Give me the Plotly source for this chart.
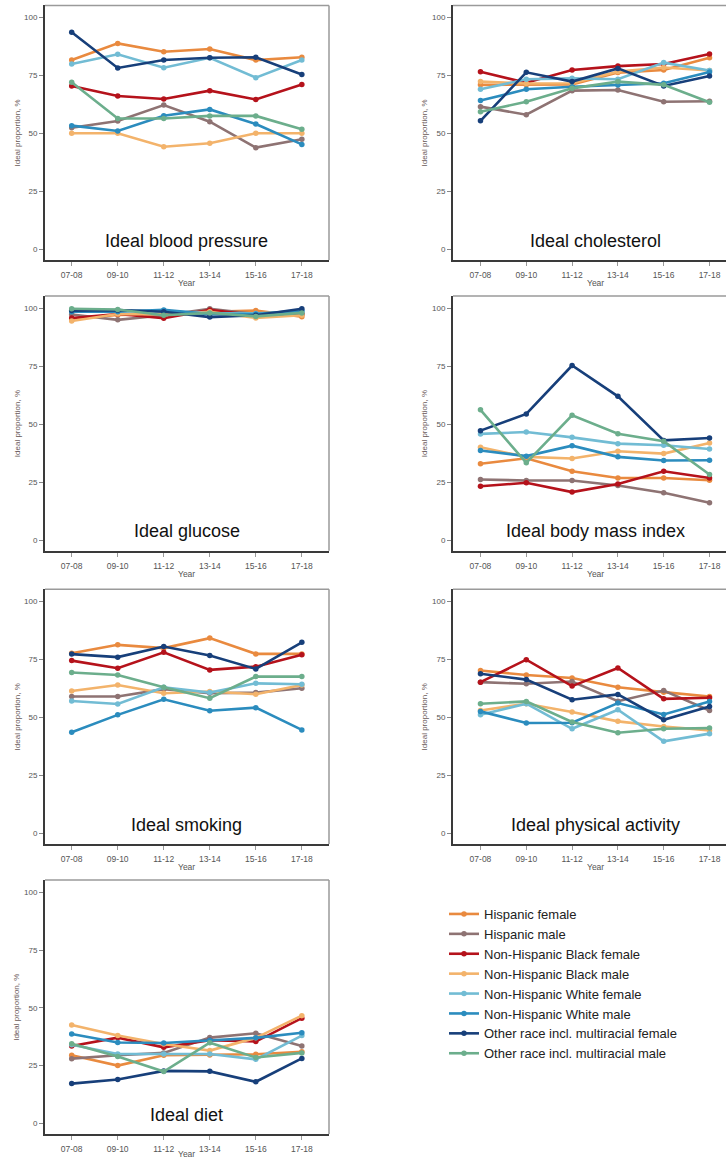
import plotly.graph_objects as go

# ---------------- data ----------------
years = ["07-08", "09-10", "11-12", "13-14", "15-16", "17-18"]

groups = [
    "Hispanic female",
    "Hispanic male",
    "Non-Hispanic Black female",
    "Non-Hispanic Black male",
    "Non-Hispanic White female",
    "Non-Hispanic White male",
    "Other race incl. multiracial female",
    "Other race incl. multiracial male",
]

colors = ["#E98A3F", "#8E7373", "#B5121B", "#F3B36B",
          "#72BCD4", "#2B8CBE", "#173F7A", "#6CAE8C"]

# order of rows = order of groups
blood_pressure = [
    [81.7, 88.9, 85.3, 86.5, 81.7, 82.9],
    [52.5, 55.4, 62.3, 55.1, 43.9, 47.5],
    [70.5, 66.2, 64.9, 68.5, 64.7, 71.2],
    [50.1, 50.1, 44.3, 45.8, 50.1, 50.1],
    [80.0, 84.2, 78.4, 82.7, 74.1, 81.7],
    [53.4, 51.1, 57.7, 60.4, 54.1, 45.3],
    [93.7, 78.3, 81.7, 82.7, 82.9, 75.5],
    [72.1, 56.5, 56.5, 57.6, 57.6, 51.8],
]

cholesterol = [
    [71.0, 71.0, 71.2, 76.3, 77.4, 82.7],
    [61.6, 58.1, 68.5, 68.8, 63.7, 63.9],
    [76.7, 71.9, 77.4, 79.1, 80.0, 84.3],
    [72.4, 71.6, 71.7, 76.8, 78.5, 77.2],
    [69.1, 73.4, 73.8, 73.4, 80.6, 77.2],
    [64.2, 69.1, 70.2, 70.9, 71.7, 76.6],
    [55.5, 76.4, 72.4, 78.1, 70.5, 74.8],
    [59.4, 63.7, 69.5, 72.4, 71.0, 63.5],
]

glucose = [
    [95.5, 97.1, 97.5, 98.5, 99.0, 96.4],
    [97.3, 95.0, 97.0, 99.8, 97.5, 97.5],
    [95.8, 97.5, 95.7, 99.3, 97.0, 97.5],
    [94.5, 97.5, 97.5, 98.5, 95.8, 97.0],
    [99.3, 99.0, 98.8, 97.8, 97.8, 98.5],
    [98.5, 98.5, 99.3, 97.5, 97.5, 99.0],
    [99.0, 99.2, 98.5, 96.2, 97.0, 99.8],
    [99.8, 99.5, 97.0, 98.0, 96.5, 98.0],
]

body_mass_index = [
    [32.9, 35.3, 29.7, 26.8, 26.8, 25.8],
    [26.1, 25.7, 25.7, 23.5, 20.4, 16.1],
    [23.2, 24.7, 20.7, 24.2, 29.7, 26.8],
    [40.0, 35.9, 35.2, 38.3, 37.3, 41.9],
    [45.8, 46.6, 44.3, 41.6, 40.9, 39.3],
    [38.6, 36.2, 40.7, 35.9, 34.3, 34.4],
    [47.2, 54.4, 75.3, 62.0, 43.0, 44.0],
    [56.2, 33.3, 53.8, 45.9, 42.6, 28.3],
]

smoking = [
    [77.7, 81.3, 79.9, 84.2, 77.4, 77.4],
    [59.0, 59.0, 62.2, 60.4, 60.7, 62.6],
    [74.5, 71.2, 78.1, 70.5, 71.9, 77.0],
    [61.4, 64.0, 60.4, 61.2, 60.0, 64.0],
    [57.1, 55.8, 63.0, 60.7, 64.7, 64.3],
    [43.6, 51.1, 57.8, 52.9, 54.2, 44.6],
    [77.3, 76.0, 80.6, 76.7, 70.9, 82.4],
    [69.4, 68.3, 63.0, 58.3, 67.6, 67.6],
]

physical_activity = [
    [70.2, 68.3, 67.0, 63.0, 60.9, 59.0],
    [65.2, 64.5, 65.5, 57.0, 61.6, 53.0],
    [65.2, 74.9, 63.5, 71.3, 58.0, 58.5],
    [53.0, 55.9, 52.3, 48.3, 46.1, 44.4],
    [51.1, 55.9, 45.1, 53.3, 39.7, 43.0],
    [52.6, 47.6, 47.7, 56.2, 51.3, 56.9],
    [68.8, 66.3, 57.6, 59.9, 49.0, 54.7],
    [55.9, 56.9, 48.0, 43.4, 45.1, 45.4],
]

diet = [
    [29.5, 25.0, 29.5, 29.6, 29.9, 31.0],
    [28.0, 29.5, 30.5, 37.1, 39.0, 33.5],
    [33.5, 37.1, 32.9, 36.0, 35.4, 45.5],
    [42.6, 38.0, 34.3, 31.5, 37.0, 46.6],
    [34.0, 30.0, 30.0, 30.0, 27.7, 38.0],
    [38.7, 35.0, 34.8, 36.0, 37.0, 39.2],
    [17.2, 19.0, 22.7, 22.5, 18.0, 28.1],
    [34.5, 28.9, 22.4, 34.9, 28.5, 30.5],
]

panels = [
    ("Ideal blood pressure", blood_pressure),
    ("Ideal cholesterol", cholesterol),
    ("Ideal glucose", glucose),
    ("Ideal body mass index", body_mass_index),
    ("Ideal smoking", smoking),
    ("Ideal physical activity", physical_activity),
    ("Ideal diet", diet),
]

# ---------------- layout geometry (pixels) ----------------
W, H = 726, 1159
cols_px = [(45, 329), (453, 726)]
cols_xrange = [[-0.58, 5.59], [-0.6, 5.36]]
rows_px = [(5.4, 260), (296, 550.7), (589.2, 844), (880, 1134)]
yrange = [-4.6, 105.3]
ytitle_x = [17, 424]

FONT = "Liberation Sans, Arial, sans-serif"

fig = go.Figure()
layout = dict(
    width=W, height=H,
    margin=dict(l=0, r=0, t=0, b=0),
    paper_bgcolor="white", plot_bgcolor="white",
    font=dict(family=FONT, color="#444"),
    showlegend=True,
    legend=dict(x=444 / W, y=1 - 899 / H, xanchor="left", yanchor="top",
                font=dict(size=13, color="#222", family=FONT),
                bgcolor="rgba(0,0,0,0)", tracegroupgap=0),
)
shapes = []
annotations = []

for i, (title, data) in enumerate(panels):
    n = i + 1
    r, c = divmod(i, 2)
    x0p, x1p = cols_px[c]
    top, bot = rows_px[r]
    xd = [x0p / W, min(x1p / W, 1.0)]
    yd = [1 - bot / H, 1 - top / H]
    xa = "xaxis" if n == 1 else f"xaxis{n}"
    ya = "yaxis" if n == 1 else f"yaxis{n}"
    xref = "x" if n == 1 else f"x{n}"
    yref = "y" if n == 1 else f"y{n}"

    for g, name in enumerate(groups):
        fig.add_trace(go.Scatter(
            x=years, y=data[g], mode="lines+markers", name=name,
            line=dict(color=colors[g], width=2.6),
            marker=dict(color=colors[g], size=5.5),
            legendgroup=name, showlegend=(i == 0),
            xaxis=xref, yaxis=yref,
        ))

    layout[xa] = dict(
        domain=xd, anchor=yref, type="category", range=cols_xrange[c],
        showgrid=False, zeroline=False,
        showline=True, linecolor="#3a3a3a", linewidth=2,
        ticks="outside", ticklen=4, tickcolor="#999", tickwidth=1,
        ticklabelstandoff=2,
        tickfont=dict(size=8.5, color="#555"),
    )
    layout[ya] = dict(
        domain=yd, anchor=xref, range=yrange,
        tickvals=[0, 25, 50, 75, 100],
        showgrid=False, zeroline=False,
        showline=True, linecolor="#3a3a3a", linewidth=2,
        ticks="outside", ticklen=4, tickcolor="#888", tickwidth=1,
        tickfont=dict(size=8, color="#555"),
    )

    # top (and right) frame lines, lighter grey
    shapes.append(dict(type="line", xref="paper", yref="paper",
                       x0=xd[0], x1=xd[1], y0=yd[1], y1=yd[1],
                       line=dict(color="#9a9a9a", width=1.5)))
    if xd[1] < 1.0:
        shapes.append(dict(type="line", xref="paper", yref="paper",
                           x0=xd[1], x1=xd[1], y0=yd[0], y1=yd[1],
                           line=dict(color="#9a9a9a", width=1.5)))

    # panel title inside plot
    annotations.append(dict(
        text=title, xref=xref, yref=yref, x=2.5, y=3.7,
        xanchor="center", yanchor="middle", showarrow=False,
        font=dict(size=18, color="#111", family=FONT),
    ))
    # y axis title
    y100 = top + 12.3
    y0 = bot - 10.7
    annotations.append(dict(
        text="Ideal proportion, %", xref="paper", yref="paper",
        x=ytitle_x[c] / W, y=1 - ((y100 + y0) / 2) / H,
        xanchor="center", yanchor="middle", textangle=-90, showarrow=False,
        font=dict(size=8, color="#6a5a5a", family=FONT),
    ))
    # x axis title
    year_y = min(bot + 23, H - 5.5)
    annotations.append(dict(
        text="Year", xref=xref, yref="paper", x=2.5, y=1 - year_y / H,
        xanchor="center", yanchor="middle", showarrow=False,
        font=dict(size=8.5, color="#555", family=FONT),
    ))

layout["shapes"] = shapes
layout["annotations"] = annotations
fig.update_layout(**layout)

fig.write_html("out.html",
               config={"displayModeBar": False},
               post_script="document.body.style.margin='0';"
                           "document.body.style.overflow='hidden';")
